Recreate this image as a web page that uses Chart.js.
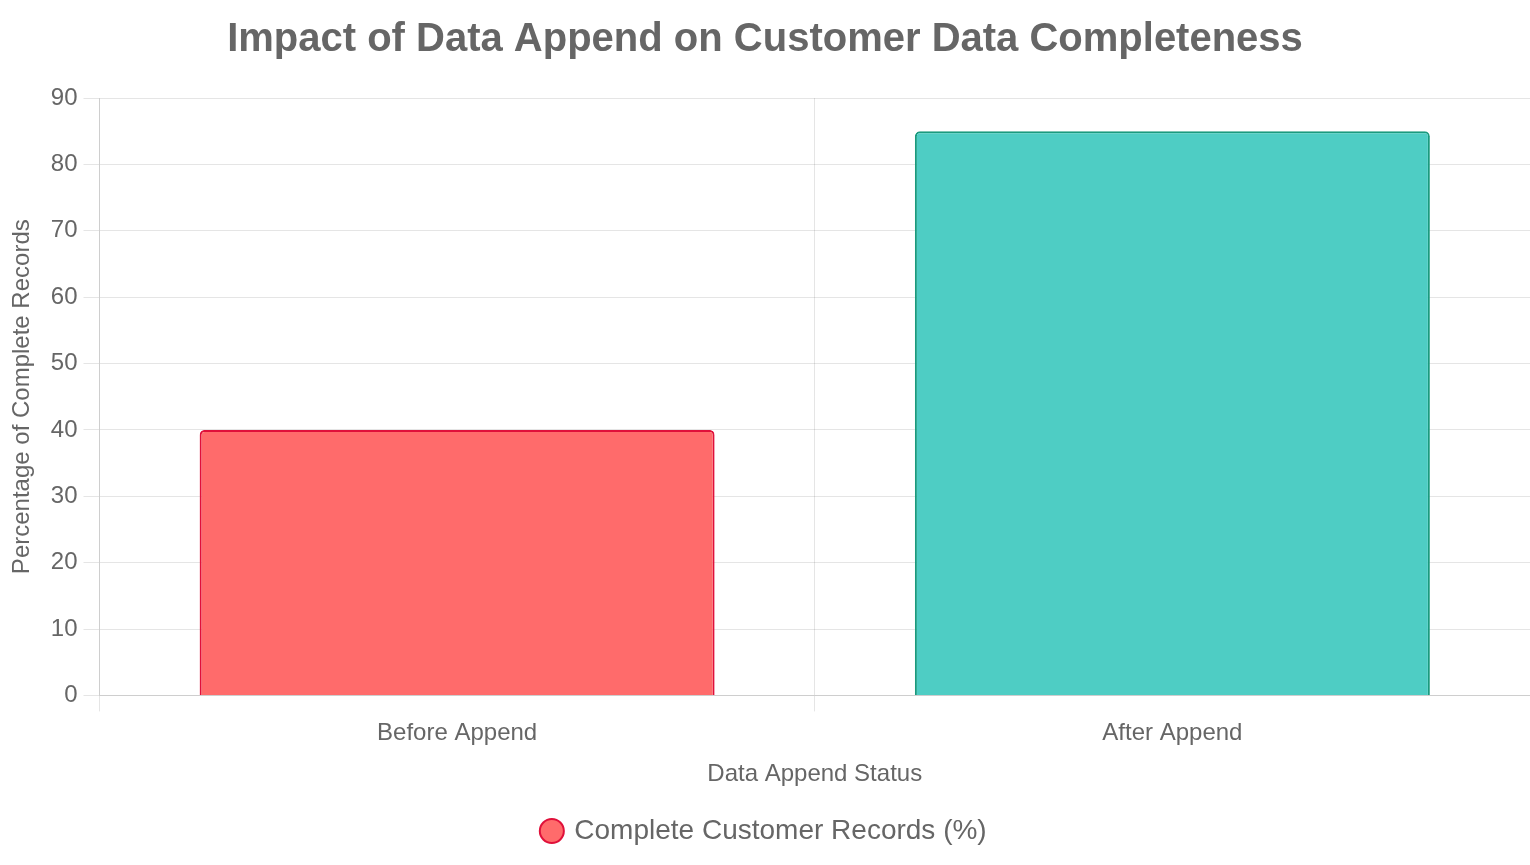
<!DOCTYPE html>
<html>
<head>
<meta charset="utf-8">
<script src="https://cdn.jsdelivr.net/npm/chart.js@4"></script>
<style>
  html, body { margin: 0; padding: 0; background: #fff; }
  #wrap { width: 1530px; height: 865px; }
</style>
</head>
<body>
<div id="wrap"><canvas id="appendChart"></canvas></div>
<script>
const categories = ['Before Append', 'After Append'];
const completeRecords = [40, 85];
const barColors = ['#FF6B6B', '#4ECDC4'];
const borderColors = ['#E0103A', '#1A9A7E'];

Chart.defaults.font.family = "'Liberation Sans', Arial, Helvetica, sans-serif";
Chart.defaults.color = '#666';

const ctx = document.getElementById('appendChart').getContext('2d');

const chart = new Chart(ctx, {
    type: 'bar',
    data: {
        labels: categories,
        datasets: [{
            label: 'Complete Customer Records (%)',
            data: completeRecords,
            backgroundColor: barColors,
            borderColor: borderColors,
            borderWidth: 2,
            borderRadius: 5,
            borderSkipped: 'bottom'
        }]
    },
    options: {
        responsive: true,
        maintainAspectRatio: false,
        animation: false,
        layout: { padding: { top: 0, right: 0, bottom: 10, left: 0 } },
        plugins: {
            title: {
                display: true,
                text: 'Impact of Data Append on Customer Data Completeness',
                font: { size: 40, weight: 'bold' },
                color: '#666',
                padding: { top: 16, bottom: 34 }
            },
            legend: {
                position: 'bottom',
                labels: {
                    usePointStyle: true,
                    pointStyle: 'circle',
                    boxWidth: 17,
                    boxHeight: 17,
                    font: { size: 28 },
                    padding: 20
                }
            }
        },
        scales: {
            y: {
                min: 0,
                max: 90,
                grid: { tickLength: 16 },
                ticks: { stepSize: 10, padding: 6, font: { size: 24 } },
                title: {
                    display: true,
                    text: 'Percentage of Complete Records',
                    font: { size: 24 },
                    padding: 8
                }
            },
            x: {
                grid: { tickLength: 16 },
                ticks: { padding: 8, font: { size: 24 } },
                title: {
                    display: true,
                    text: 'Data Append Status',
                    font: { size: 24 },
                    padding: { top: 4, bottom: 8 }
                }
            }
        }
    }
});
</script>
</body>
</html>
